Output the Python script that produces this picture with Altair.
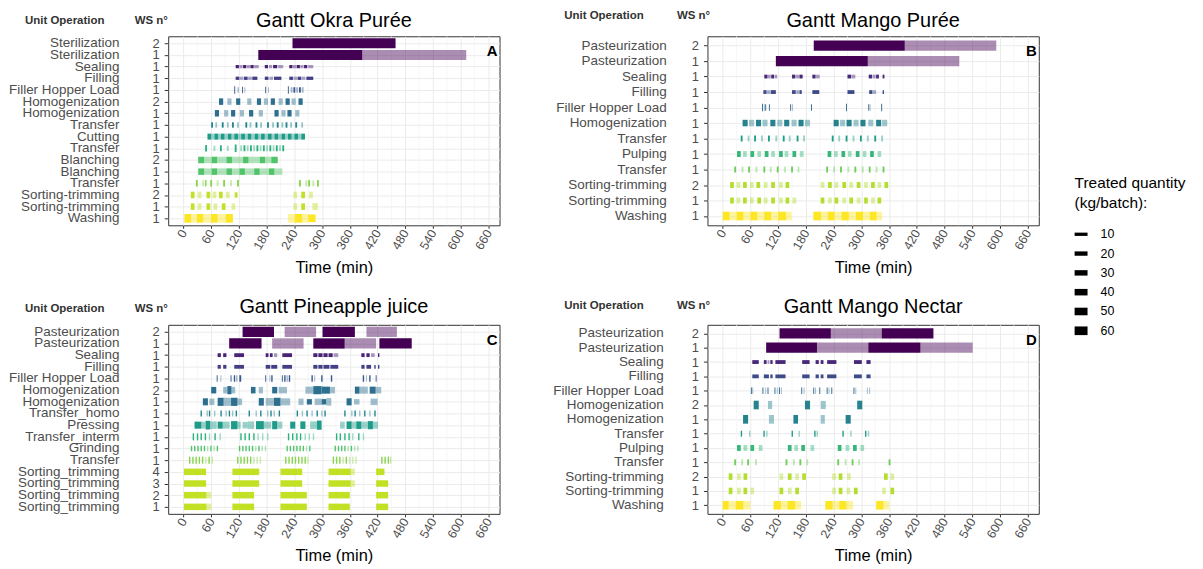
import json
import altair as alt
import pandas as pd

FONT = "Liberation Sans"
X_TICKS = [0, 60, 120, 180, 240, 300, 360, 420, 480, 540, 600, 660]
X_MINOR = [30, 90, 150, 210, 270, 330, 390, 450, 510, 570, 630]
LEGEND_Q = [10, 20, 30, 40, 50, 60]

# ---------------- Panel A : Okra purée ----------------
A_ops = ["Sterilization", "Sterilization", "Sealing", "Filling", "Filler Hopper Load",
         "Homogenization", "Homogenization", "Transfer", "Cutting", "Transfer",
         "Blanching", "Blanching", "Transfer", "Sorting-trimming", "Sorting-trimming", "Washing"]
A_ws = ["2", "1", "1", "1", "1", "2", "1", "1", "1", "1", "2", "1", "1", "2", "1", "1"]
A_stage = [11, 11, 10, 9, 8, 7, 7, 6, 5, 4, 3, 3, 2, 1, 1, 0]
# (start, end, kg/batch, light batch)
A_segs = [
    [(236, 459, 72, 0)],
    [(162, 387, 72, 0), (387, 612, 72, 1)],
    [(113, 120, 10, 0), (121, 128, 10, 1), (129, 136, 10, 0), (137, 144, 10, 1), (145, 152, 10, 0), (153, 163, 10, 1),
     (176, 183, 10, 0), (185, 192, 10, 1), (194, 203, 10, 0), (205, 216, 10, 1),
     (229, 236, 10, 0), (237, 244, 10, 1), (245, 252, 10, 0), (253, 260, 10, 1), (261, 268, 10, 0), (270, 281, 10, 1)],
    [(113, 121, 10, 0), (122, 130, 10, 1), (131, 139, 10, 0), (140, 148, 10, 1), (149, 160, 10, 0),
     (176, 184, 10, 0), (186, 194, 10, 1), (196, 212, 10, 0),
     (229, 237, 10, 0), (238, 246, 10, 1), (247, 255, 10, 0), (256, 264, 10, 1), (266, 281, 10, 0)],
    [(110, 112, 50, 0), (117, 120, 30, 1), (127, 129, 40, 0), (132, 134, 30, 1), (177, 179, 40, 0), (183, 185, 30, 1),
     (226, 228, 50, 0), (232, 236, 30, 1), (238, 242, 30, 0), (244, 248, 30, 1), (250, 254, 30, 0), (256, 260, 30, 1)],
    [(77, 86, 40, 0), (95, 104, 40, 1), (114, 123, 40, 0), (138, 147, 40, 1), (159, 168, 40, 0), (174, 183, 40, 1),
     (189, 198, 40, 0), (206, 215, 40, 1), (221, 230, 40, 0), (234, 243, 40, 1), (249, 258, 40, 0)],
    [(68, 77, 40, 0), (88, 97, 40, 1), (103, 112, 40, 0), (122, 131, 40, 1), (142, 151, 40, 0), (163, 172, 40, 1),
     (197, 206, 40, 0), (212, 221, 40, 1), (225, 234, 40, 0), (242, 251, 40, 1)],
    [(60, 64, 30, 0), (69, 73, 30, 1), (83, 87, 30, 0), (94, 98, 30, 1), (105, 109, 30, 0), (116, 120, 30, 1),
     (134, 138, 30, 0), (143, 147, 30, 1), (156, 160, 30, 0), (166, 170, 30, 1), (181, 185, 30, 0), (192, 196, 30, 1),
     (202, 206, 30, 0), (212, 216, 30, 1), (221, 225, 30, 0), (231, 235, 30, 1), (242, 246, 30, 0), (255, 259, 30, 1)],
    [(52, 60, 35, 0), (60, 67, 35, 1), (67, 75, 35, 0), (75, 81, 35, 1), (81, 89, 35, 0), (89, 96, 35, 1),
     (96, 104, 35, 0), (104, 110, 35, 1), (110, 118, 35, 0), (118, 125, 35, 1), (125, 133, 35, 0), (133, 139, 35, 1),
     (139, 147, 35, 0), (147, 154, 35, 1), (154, 162, 35, 0), (162, 168, 35, 1), (168, 176, 35, 0), (176, 183, 35, 1),
     (183, 191, 35, 0), (191, 197, 35, 1), (197, 205, 35, 0), (205, 212, 35, 1), (212, 220, 35, 0), (220, 226, 35, 1),
     (226, 234, 35, 0), (234, 240, 35, 1), (240, 248, 35, 0), (248, 255, 35, 1), (255, 263, 35, 0)],
    [(47, 51, 40, 0), (65, 69, 30, 1), (79, 83, 35, 0), (94, 98, 30, 1), (111, 115, 50, 0), (123, 127, 35, 1),
     (130, 134, 35, 0), (137, 141, 35, 1), (144, 148, 35, 0), (151, 155, 35, 1), (158, 162, 35, 0), (165, 169, 35, 1),
     (172, 176, 35, 0), (179, 183, 35, 1), (186, 190, 35, 0), (193, 197, 35, 1), (200, 204, 35, 0), (207, 211, 35, 1),
     (214, 218, 35, 0)],
    [(32, 45, 40, 0), (45, 61, 40, 1), (61, 73, 40, 0), (73, 93, 40, 1), (93, 105, 40, 0), (105, 129, 40, 1),
     (129, 141, 40, 0), (141, 165, 40, 1), (165, 177, 40, 0), (177, 190, 40, 1), (190, 204, 40, 0)],
    [(32, 45, 40, 0), (45, 61, 40, 1), (61, 73, 40, 0), (73, 93, 40, 1), (93, 105, 40, 0), (105, 121, 40, 1),
     (121, 133, 40, 0), (133, 153, 40, 1), (153, 165, 40, 0), (165, 185, 40, 1), (185, 197, 40, 0), (197, 214, 40, 1)],
    [(27, 31, 40, 0), (41, 45, 35, 1), (47, 50, 40, 0), (58, 62, 40, 0), (72, 76, 35, 1), (86, 90, 40, 0),
     (101, 105, 35, 1), (116, 120, 40, 0), (250, 254, 40, 0), (264, 268, 35, 1), (270, 274, 40, 0), (279, 283, 35, 1),
     (289, 293, 40, 0)],
    [(16, 24, 40, 0), (31, 39, 40, 1), (50, 58, 40, 0), (63, 71, 40, 1), (77, 85, 40, 0), (92, 100, 40, 1),
     (111, 117, 30, 0), (238, 246, 40, 1), (255, 263, 40, 0), (272, 280, 40, 1)],
    [(16, 24, 40, 0), (31, 39, 40, 1), (50, 58, 40, 0), (65, 73, 40, 1), (83, 91, 40, 0), (104, 112, 40, 1),
     (238, 246, 40, 1), (255, 263, 40, 0), (279, 291, 45, 1)],
    [(2, 17, 60, 0), (17, 29, 60, 1), (29, 43, 60, 0), (43, 60, 60, 1), (60, 74, 60, 0), (74, 92, 60, 1),
     (92, 107, 60, 0), (226, 241, 60, 1), (241, 257, 60, 0), (257, 270, 60, 1), (270, 286, 50, 0)],
]

# ---------------- Panel B : Mango purée ----------------
B_ops = ["Pasteurization", "Pasteurization", "Sealing", "Filling", "Filler Hopper Load", "Homogenization",
         "Transfer", "Pulping", "Transfer", "Sorting-trimming", "Sorting-trimming", "Washing"]
B_ws = ["2", "1", "1", "1", "1", "1", "1", "1", "1", "2", "1", "1"]
B_stage = [9, 9, 8, 7, 6, 5, 4, 3, 2, 1, 1, 0]
B_segs = [
    [(197, 394, 75, 0), (394, 592, 75, 1)],
    [(115, 314, 75, 0), (314, 512, 75, 1)],
    [(90, 97, 15, 0), (98, 104, 15, 1), (105, 111, 15, 0), (112, 118, 15, 1), (150, 157, 15, 0), (158, 165, 15, 1),
     (166, 173, 15, 0), (194, 201, 15, 0), (202, 210, 15, 1), (270, 278, 15, 0), (279, 287, 15, 1),
     (316, 323, 15, 0), (324, 331, 15, 1), (332, 338, 15, 0), (346, 350, 15, 0)],
    [(88, 95, 15, 0), (96, 103, 15, 1), (104, 115, 15, 0), (150, 158, 15, 0), (159, 165, 15, 1), (166, 171, 15, 0),
     (194, 209, 15, 0), (270, 285, 15, 0), (317, 324, 15, 0), (325, 332, 15, 1), (346, 349, 15, 0)],
    [(85, 87, 50, 0), (89, 91, 40, 1), (92, 94, 40, 0), (100, 102, 40, 0), (146, 148, 40, 0), (150, 152, 40, 1),
     (191, 193, 40, 0), (267, 269, 50, 0), (315, 317, 40, 0), (318, 320, 40, 1), (343, 345, 50, 0)],
    [(43, 54, 40, 0), (57, 68, 40, 1), (72, 83, 40, 0), (86, 97, 40, 1), (103, 114, 40, 0), (118, 129, 40, 1),
     (133, 144, 40, 0), (149, 160, 40, 1), (164, 175, 40, 0), (178, 189, 40, 1), (240, 251, 40, 0), (254, 265, 40, 1),
     (268, 279, 40, 0), (283, 294, 40, 1), (298, 309, 40, 0), (315, 326, 40, 1), (332, 343, 40, 0), (345, 356, 40, 1)],
    [(39, 43, 35, 0), (54, 58, 35, 1), (68, 72, 35, 0), (83, 87, 35, 1), (98, 102, 35, 0), (114, 118, 35, 1),
     (130, 134, 35, 0), (143, 147, 35, 1), (160, 164, 35, 0), (174, 178, 35, 1), (236, 240, 35, 0), (250, 254, 35, 1),
     (266, 270, 35, 0), (281, 285, 35, 1), (297, 301, 35, 0), (312, 316, 35, 1), (328, 332, 35, 0), (343, 347, 35, 1)],
    [(31, 39, 35, 0), (44, 52, 35, 1), (60, 68, 35, 0), (75, 83, 35, 1), (91, 99, 35, 0), (105, 113, 35, 1),
     (122, 130, 35, 0), (134, 142, 35, 1), (151, 159, 35, 0), (167, 175, 35, 1), (227, 235, 35, 0), (241, 249, 35, 1),
     (257, 265, 35, 0), (271, 279, 35, 1), (288, 296, 35, 0), (303, 311, 35, 1), (319, 327, 35, 0), (335, 343, 35, 1)],
    [(25, 29, 35, 0), (41, 45, 35, 1), (55, 59, 35, 0), (71, 75, 35, 1), (88, 92, 35, 0), (102, 106, 35, 1),
     (117, 121, 35, 0), (133, 137, 35, 1), (148, 152, 35, 0), (162, 166, 35, 1), (224, 228, 35, 0), (239, 243, 35, 1),
     (254, 258, 35, 0), (270, 274, 35, 1), (285, 289, 35, 0), (301, 305, 35, 1), (316, 320, 35, 0), (331, 335, 35, 1),
     (346, 350, 35, 0)],
    [(16, 24, 35, 0), (30, 38, 35, 1), (44, 52, 35, 0), (59, 67, 35, 1), (73, 81, 35, 0), (89, 97, 35, 1),
     (105, 113, 35, 0), (122, 130, 35, 1), (136, 144, 35, 0), (212, 220, 35, 1), (228, 236, 35, 0), (242, 250, 35, 1),
     (259, 267, 35, 0), (274, 282, 35, 1), (290, 298, 35, 0), (306, 314, 35, 1), (321, 329, 35, 0), (335, 343, 35, 1),
     (350, 358, 35, 0)],
    [(16, 24, 35, 0), (30, 38, 35, 1), (44, 52, 35, 0), (59, 67, 35, 1), (75, 83, 35, 0), (89, 97, 35, 1),
     (105, 113, 35, 0), (122, 130, 35, 1), (136, 144, 35, 0), (151, 159, 35, 1), (212, 220, 35, 0), (228, 236, 35, 1),
     (242, 250, 35, 0), (259, 267, 35, 1), (274, 282, 35, 0), (290, 298, 35, 1), (306, 314, 35, 0), (321, 329, 35, 1),
     (335, 343, 35, 0)],
    [(0, 15, 60, 0), (15, 30, 60, 1), (30, 45, 60, 0), (45, 60, 60, 1), (60, 75, 60, 0), (75, 90, 60, 1),
     (90, 105, 60, 0), (105, 120, 60, 1), (120, 137, 60, 0), (137, 149, 60, 1), (196, 213, 60, 0), (213, 227, 60, 1),
     (227, 242, 60, 0), (242, 257, 60, 1), (257, 273, 60, 0), (273, 288, 60, 1), (288, 304, 60, 0), (304, 318, 60, 1),
     (318, 333, 60, 0), (333, 345, 60, 1)],
]

# ---------------- Panel C : Pineapple juice ----------------
C_ops = ["Pasteurization", "Pasteurization", "Sealing", "Filling", "Filler Hopper Load", "Homogenization",
         "Homogenization", "Transfer_homo", "Pressing", "Transfer_interm", "Grinding", "Transfer",
         "Sorting_trimming", "Sorting_trimming", "Sorting_trimming", "Sorting_trimming"]
C_ws = ["2", "1", "1", "1", "1", "2", "1", "1", "1", "1", "1", "1", "4", "3", "2", "1"]
C_stage = [11, 11, 10, 9, 8, 7, 7, 6, 5, 4, 3, 2, 1, 1, 1, 1]
C_segs = [
    [(128, 196, 75, 0), (219, 287, 75, 1), (301, 371, 75, 0), (396, 462, 75, 1)],
    [(99, 169, 75, 0), (192, 260, 75, 1), (281, 349, 75, 0), (349, 417, 75, 1), (424, 494, 75, 0)],
    [(74, 81, 15, 0), (86, 93, 15, 0), (110, 131, 15, 0), (178, 184, 15, 0), (187, 193, 15, 0), (196, 203, 15, 1),
     (214, 235, 15, 0), (281, 290, 15, 0), (292, 301, 15, 0), (303, 312, 15, 0), (314, 323, 15, 0), (325, 335, 15, 1),
     (385, 392, 15, 0), (396, 403, 15, 0), (406, 414, 15, 1), (421, 424, 15, 0)],
    [(74, 81, 15, 0), (86, 93, 15, 0), (110, 131, 15, 0), (178, 188, 15, 0), (190, 203, 15, 0), (214, 235, 15, 0),
     (281, 290, 15, 0), (292, 301, 15, 0), (303, 316, 15, 0), (318, 335, 15, 0), (385, 392, 15, 0), (396, 406, 15, 0),
     (413, 416, 15, 0), (421, 424, 15, 0)],
    [(72, 74, 40, 0), (80, 82, 40, 1), (102, 104, 40, 0), (109, 112, 40, 0), (114, 117, 40, 1), (121, 125, 40, 0),
     (177, 179, 40, 0), (186, 188, 40, 1), (190, 193, 40, 0), (213, 215, 40, 0), (218, 221, 40, 0), (223, 226, 40, 1),
     (228, 231, 40, 0), (277, 280, 40, 0), (283, 285, 40, 1), (298, 301, 40, 0), (319, 322, 40, 0), (388, 391, 40, 0),
     (395, 397, 40, 1), (402, 405, 40, 0), (416, 418, 40, 0)],
    [(60, 71, 40, 0), (86, 95, 40, 1), (95, 104, 55, 0), (104, 112, 40, 1), (146, 156, 40, 0), (163, 172, 40, 1),
     (192, 203, 40, 0), (206, 224, 40, 1), (264, 281, 45, 1), (281, 299, 55, 0), (299, 317, 45, 0), (317, 328, 40, 1),
     (371, 381, 45, 0), (381, 399, 45, 1), (403, 416, 45, 0), (416, 428, 40, 1)],
    [(42, 53, 45, 0), (56, 67, 40, 1), (74, 87, 55, 0), (87, 103, 55, 1), (103, 117, 55, 0), (117, 127, 40, 1),
     (163, 174, 50, 0), (178, 196, 50, 1), (196, 210, 55, 0), (210, 231, 45, 1), (249, 260, 40, 1), (267, 278, 30, 0),
     (284, 299, 40, 1), (299, 309, 30, 0), (309, 320, 50, 1), (353, 364, 45, 0), (369, 381, 30, 1), (405, 420, 40, 1)],
    [(37, 40, 35, 0), (50, 53, 35, 1), (55, 58, 35, 0), (66, 69, 35, 1), (80, 83, 35, 0), (91, 94, 35, 1),
     (98, 101, 35, 0), (105, 108, 35, 1), (113, 116, 35, 0), (141, 144, 35, 0), (156, 159, 35, 1), (166, 169, 35, 0),
     (181, 184, 35, 1), (188, 191, 35, 0), (195, 198, 35, 1), (206, 209, 35, 0), (245, 248, 35, 0), (256, 259, 35, 1),
     (266, 269, 35, 0), (277, 280, 35, 1), (288, 291, 35, 0), (298, 301, 35, 1), (305, 308, 35, 0), (348, 351, 35, 0),
     (363, 366, 35, 1), (370, 373, 35, 0), (380, 383, 35, 1), (391, 394, 35, 0), (402, 405, 35, 1), (413, 416, 35, 0)],
    [(24, 39, 45, 0), (39, 48, 45, 1), (48, 58, 60, 0), (58, 72, 50, 1), (74, 85, 45, 0), (85, 100, 45, 1),
     (103, 117, 55, 0), (117, 124, 45, 1), (128, 139, 40, 1), (139, 153, 50, 1), (157, 174, 55, 0), (174, 190, 45, 1),
     (192, 203, 55, 0), (203, 214, 45, 1), (231, 242, 45, 0), (253, 264, 50, 0), (274, 289, 50, 1), (289, 299, 65, 0),
     (339, 349, 45, 1), (353, 364, 50, 0), (364, 374, 45, 1), (374, 385, 50, 0), (385, 399, 45, 1), (399, 410, 55, 0),
     (410, 421, 45, 1)],
    [(20, 23, 45, 0), (29, 32, 45, 0), (37, 40, 45, 0), (46, 49, 45, 0), (55, 58, 45, 1), (67, 70, 45, 0),
     (78, 81, 45, 1), (123, 126, 45, 0), (132, 135, 45, 0), (141, 144, 45, 0), (151, 154, 45, 0), (160, 163, 45, 1),
     (170, 173, 45, 1), (181, 184, 45, 1), (226, 229, 45, 0), (235, 238, 45, 0), (244, 247, 45, 0), (252, 255, 45, 0),
     (262, 265, 45, 1), (271, 274, 45, 1), (280, 283, 45, 1), (330, 333, 45, 0), (338, 341, 45, 0), (348, 351, 45, 0),
     (357, 360, 45, 0), (365, 368, 45, 1), (378, 381, 45, 0), (388, 391, 45, 1)],
    [(16, 19, 30, 0), (23, 26, 30, 0), (30, 33, 30, 0), (37, 40, 30, 0), (44, 47, 30, 0), (51, 54, 30, 1),
     (58, 61, 30, 0), (65, 68, 30, 1), (72, 75, 30, 0), (120, 123, 30, 0), (127, 130, 30, 0), (134, 137, 30, 0),
     (141, 144, 30, 0), (148, 151, 30, 0), (155, 158, 30, 1), (162, 165, 30, 0), (169, 172, 30, 1), (176, 179, 30, 1),
     (223, 226, 30, 0), (230, 233, 30, 0), (237, 240, 30, 0), (244, 247, 30, 0), (251, 254, 30, 0), (258, 261, 30, 0),
     (265, 268, 30, 1), (272, 275, 30, 0), (327, 330, 30, 0), (334, 337, 30, 0), (341, 344, 30, 0), (348, 351, 30, 0),
     (355, 358, 30, 1), (362, 365, 30, 0), (369, 372, 30, 1), (376, 379, 30, 1)],
    [(12, 15, 45, 0), (19, 22, 45, 0), (26, 29, 45, 0), (33, 36, 45, 0), (40, 43, 45, 0), (47, 50, 45, 1),
     (54, 57, 45, 0), (61, 64, 45, 1), (116, 119, 45, 0), (123, 126, 45, 0), (130, 133, 45, 0), (137, 140, 45, 0),
     (144, 147, 45, 0), (151, 154, 45, 1), (158, 161, 45, 1), (165, 168, 45, 1), (220, 223, 45, 0), (227, 230, 45, 0),
     (234, 237, 45, 0), (241, 244, 45, 0), (248, 251, 45, 0), (255, 258, 45, 0), (262, 265, 45, 0), (268, 271, 45, 1),
     (323, 326, 45, 0), (330, 333, 45, 0), (337, 340, 45, 0), (344, 347, 45, 1), (351, 354, 45, 0), (358, 361, 45, 1),
     (365, 368, 45, 1), (372, 375, 45, 1), (428, 431, 45, 0), (435, 438, 45, 0), (442, 445, 45, 0), (447, 450, 45, 1)],
    [(1, 49, 40, 0), (106, 164, 40, 0), (210, 257, 40, 0), (314, 362, 40, 0), (362, 371, 40, 1), (417, 435, 40, 0)],
    [(1, 49, 40, 0), (106, 164, 40, 0), (210, 257, 40, 0), (314, 362, 40, 0), (362, 371, 40, 1), (417, 443, 40, 0)],
    [(1, 50, 40, 0), (50, 60, 40, 1), (106, 153, 40, 0), (210, 267, 40, 0), (314, 360, 40, 0), (417, 443, 40, 0)],
    [(1, 50, 40, 0), (50, 60, 40, 1), (106, 153, 40, 0), (210, 267, 40, 0), (314, 360, 40, 0), (417, 443, 40, 0)],
]

# ---------------- Panel D : Mango nectar ----------------
D_ops = ["Pasteurization", "Pasteurization", "Sealing", "Filling", "Filler Hopper Load", "Homogenization",
         "Homogenization", "Transfer", "Pulping", "Transfer", "Sorting-trimming", "Sorting-trimming", "Washing"]
D_ws = ["2", "1", "1", "1", "1", "2", "1", "1", "1", "1", "2", "1", "1"]
D_stage = [9, 9, 8, 7, 6, 5, 5, 4, 3, 2, 1, 1, 0]
D_segs = [
    [(123, 234, 75, 0), (234, 344, 75, 1), (344, 456, 75, 0)],
    [(94, 204, 75, 0), (204, 315, 75, 1), (315, 428, 75, 0), (428, 541, 75, 1)],
    [(64, 78, 15, 0), (89, 95, 15, 0), (97, 101, 15, 1), (103, 108, 15, 0), (114, 136, 15, 0), (172, 188, 15, 0),
     (201, 208, 15, 0), (212, 218, 15, 0), (226, 246, 15, 0), (284, 301, 15, 0), (311, 320, 15, 0)],
    [(64, 78, 15, 0), (89, 100, 15, 0), (103, 108, 15, 0), (114, 136, 15, 0), (172, 188, 15, 0), (201, 208, 15, 0),
     (212, 218, 15, 0), (226, 246, 15, 0), (284, 301, 15, 0), (311, 320, 15, 0)],
    [(61, 63, 40, 0), (64, 66, 40, 1), (86, 88, 40, 0), (92, 94, 40, 1), (97, 99, 40, 0), (112, 114, 40, 0),
     (117, 119, 40, 1), (122, 124, 40, 0), (126, 128, 40, 1), (170, 172, 40, 0), (175, 177, 40, 1), (196, 198, 40, 0),
     (200, 202, 40, 1), (209, 211, 40, 0), (225, 227, 40, 0), (229, 231, 40, 1), (235, 237, 40, 0), (283, 285, 40, 0),
     (287, 289, 40, 1), (312, 314, 40, 1), (317, 319, 40, 1)],
    [(67, 78, 60, 0), (98, 107, 55, 1), (178, 189, 60, 0), (212, 223, 55, 1), (291, 302, 60, 0)],
    [(44, 55, 60, 0), (100, 111, 60, 1), (153, 163, 60, 0), (212, 221, 60, 1), (266, 277, 60, 0)],
    [(39, 42, 35, 0), (57, 60, 35, 1), (88, 91, 35, 0), (94, 97, 35, 1), (149, 152, 35, 0), (164, 167, 35, 1),
     (198, 201, 35, 0), (203, 206, 35, 1), (259, 262, 35, 0), (276, 279, 35, 1), (308, 311, 35, 0), (314, 317, 35, 1)],
    [(31, 39, 35, 0), (45, 53, 35, 1), (60, 68, 35, 0), (78, 86, 35, 1), (141, 149, 35, 0), (155, 163, 35, 1),
     (170, 178, 35, 0), (190, 198, 35, 1), (249, 257, 35, 0), (266, 274, 35, 1), (282, 290, 35, 0), (298, 306, 35, 1)],
    [(25, 29, 35, 0), (40, 44, 35, 1), (53, 57, 35, 0), (70, 74, 35, 1), (136, 140, 35, 0), (152, 156, 35, 1),
     (166, 170, 35, 0), (181, 185, 35, 1), (248, 252, 35, 0), (264, 268, 35, 1), (279, 283, 35, 0), (293, 297, 35, 1),
     (359, 363, 35, 0)],
    [(13, 21, 40, 0), (31, 39, 40, 1), (45, 53, 40, 0), (123, 131, 40, 1), (141, 149, 40, 0), (157, 165, 40, 1),
     (172, 180, 40, 0), (237, 245, 40, 1), (251, 259, 40, 0), (269, 277, 40, 1), (349, 357, 40, 0), (363, 371, 40, 1)],
    [(13, 21, 40, 0), (31, 39, 40, 1), (45, 53, 40, 0), (60, 68, 40, 1), (123, 131, 40, 0), (141, 149, 40, 1),
     (157, 165, 40, 0), (237, 245, 40, 1), (251, 259, 40, 0), (268, 276, 40, 1), (284, 292, 40, 0), (345, 353, 40, 1),
     (363, 371, 40, 0)],
    [(0, 13, 60, 0), (13, 28, 60, 1), (28, 45, 60, 0), (45, 60, 60, 1), (110, 126, 60, 0), (126, 140, 60, 1),
     (140, 157, 60, 0), (157, 170, 60, 1), (222, 238, 60, 0), (238, 252, 60, 1), (252, 268, 60, 0), (268, 282, 60, 1),
     (332, 348, 60, 0), (348, 360, 60, 1)],
]

W, H = 333, 190
SIZE_SCALE = alt.Scale(domain=[10, 60], range=[3.3, 8.7], zero=False)
X_SCALE = alt.Scale(domain=[-33, 684], nice=False, zero=False)


def panel(title, letter, ops, ws, stage, segs, name_dx, title_dy, head_dy, ws_dx):
    n = len(ops)
    rows = pd.DataFrame({"i": list(range(n)), "op": ops, "ws": ws})
    recs = []
    for i, row in enumerate(segs):
        for (s, e, q, light) in row:
            recs.append({"i": i, "start": s, "end": e, "qty": q, "light": light, "stage": stage[i]})
    df = pd.DataFrame(recs)

    yscale = alt.Scale(type="point", padding=0.6, domain=list(range(n)))
    yaxis = alt.Axis(title=None, labelExpr=json.dumps(ws) + "[datum.value]", labelFontSize=13,
                     labelColor="#4d4d4d", labelFont=FONT, tickColor="#333333", tickSize=4,
                     labelPadding=5, domain=False, grid=True, gridColor="#ebebeb", gridWidth=1)
    xaxis = alt.Axis(values=X_TICKS, title="Time (min)", labelAngle=300, labelAlign="right",
                     labelBaseline="middle", labelFontSize=12.5, labelColor="#4d4d4d", labelFont=FONT,
                     labelPadding=2, tickColor="#333333", tickSize=3, domain=False, grid=True,
                     gridColor="#ebebeb", gridWidth=1, titleFont=FONT, titleFontSize=16.5,
                     titleFontWeight="normal", titleColor="#000000", titlePadding=8)

    minor = alt.Chart(pd.DataFrame({"m": X_MINOR})).mark_rule(color="#f2f2f2", strokeWidth=0.7).encode(
        x=alt.X("m:Q", scale=X_SCALE, axis=xaxis)
    )
    bars = alt.Chart(df).mark_rule(strokeCap="butt").encode(
        x=alt.X("start:Q", scale=X_SCALE, axis=xaxis),
        x2="end:Q",
        y=alt.Y("i:O", scale=yscale, axis=yaxis),
        size=alt.Size("qty:Q", scale=SIZE_SCALE, legend=None),
        color=alt.Color("stage:Q", scale=alt.Scale(scheme="viridis", reverse=True, domain=[0, max(stage)]),
                        legend=None),
        opacity=alt.Opacity("light:Q", scale=alt.Scale(domain=[0, 1], range=[1, 0.45]), legend=None),
    )
    names = alt.Chart(rows).mark_text(align="right", baseline="middle", fontSize=13.5, color="#4d4d4d",
                                      font=FONT).encode(
        x=alt.value(name_dx), y=alt.Y("i:O", scale=yscale, axis=yaxis), text="op:N"
    )
    ttl = alt.Chart(pd.DataFrame({"t": [title]})).mark_text(
        fontSize=20, color="#000000", font=FONT, align="center", baseline="alphabetic"
    ).encode(x=alt.value(W / 2), y=alt.value(title_dy), text="t:N")
    head1 = alt.Chart(pd.DataFrame({"t": ["Unit Operation"]})).mark_text(
        fontWeight="bold", fontSize=11.5, color="#333333", font=FONT, align="center", baseline="alphabetic"
    ).encode(x=alt.value(-104), y=alt.value(head_dy), text="t:N")
    head2 = alt.Chart(pd.DataFrame({"t": ["WS n°"]})).mark_text(
        fontWeight="bold", fontSize=11.5, color="#333333", font=FONT, align="center", baseline="alphabetic"
    ).encode(x=alt.value(ws_dx), y=alt.value(head_dy), text="t:N")
    lab = alt.Chart(pd.DataFrame({"t": [letter]})).mark_text(
        fontWeight="bold", fontSize=15, color="#000000", font=FONT, align="right", baseline="middle"
    ).encode(x=alt.value(W - 2), y=alt.value(15), text="t:N")

    return alt.layer(minor, bars, names, ttl, head1, head2, lab).properties(width=W, height=H)


pA = panel("Gantt Okra Purée", "A", A_ops, A_ws, A_stage, A_segs, -49, -9, -12, -17)
pB = panel("Gantt Mango Purée", "B", B_ops, B_ws, B_stage, B_segs, -41, -9, -17, -14)
pC = panel("Gantt Pineapple juice", "C", C_ops, C_ws, C_stage, C_segs, -49, -12, -13, -17)
pD = panel("Gantt Mango Nectar", "D", D_ops, D_ws, D_stage, D_segs, -44, -12, -16, -14)

RES = dict(color="independent", size="independent", opacity="independent")
row1 = alt.hconcat(pA, pB, spacing=55).resolve_scale(**RES)
row2 = alt.hconcat(pC, pD, spacing=52).resolve_scale(**RES)
grid = alt.vconcat(row1, row2, spacing=19).resolve_scale(**RES)

# ---------------- legend ----------------
leg_df = pd.DataFrame({"q": LEGEND_Q})
lscale = alt.Scale(type="point", domain=LEGEND_Q, range=[199, 296], padding=0)
leg_rules = alt.Chart(leg_df).mark_rule(color="#000000", strokeCap="butt").encode(
    x=alt.value(0), x2=alt.value(13), y=alt.Y("q:O", scale=lscale, axis=None),
    size=alt.Size("q:Q", scale=SIZE_SCALE, legend=None),
)
leg_text = alt.Chart(leg_df).mark_text(align="left", baseline="middle", fontSize=12.5, color="#000000",
                                       font=FONT).encode(
    x=alt.value(26), y=alt.Y("q:O", scale=lscale, axis=None), text="q:N"
)
leg_t1 = alt.Chart(pd.DataFrame({"t": ["Treated quantity"]})).mark_text(
    align="left", baseline="middle", fontSize=15.5, font=FONT, color="#000000"
).encode(x=alt.value(0), y=alt.value(147), text="t:N")
leg_t2 = alt.Chart(pd.DataFrame({"t": ["(kg/batch):"]})).mark_text(
    align="left", baseline="middle", fontSize=15.5, font=FONT, color="#000000"
).encode(x=alt.value(0), y=alt.value(168), text="t:N")
legend = alt.layer(leg_rules, leg_text, leg_t1, leg_t2).properties(
    width=120, height=300, view=alt.ViewBackground(stroke="transparent")
)

chart = alt.hconcat(grid, legend, spacing=30).resolve_scale(**RES).properties(
    padding=0, background="white"
).configure_view(stroke="#333333", strokeWidth=1).configure_text(font=FONT)

chart.save("out.html", embed_options={"renderer": "svg", "actions": False})
